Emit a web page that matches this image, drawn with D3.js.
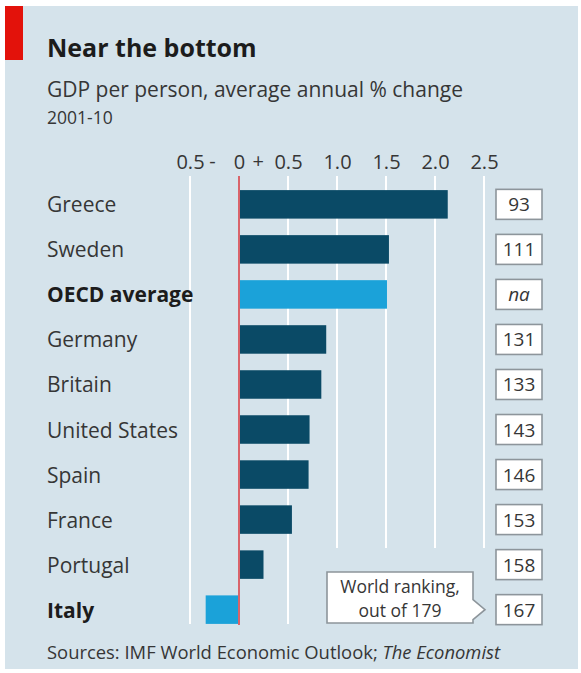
<!DOCTYPE html>
<html>
<head>
<meta charset="utf-8">
<script src="https://cdn.jsdelivr.net/npm/d3@7"></script>
<style>
  html, body { margin: 0; padding: 0; background: #ffffff; }
  svg { display: block; font-family: "Open Sans", sans-serif; }
</style>
</head>
<body>
<svg id="chart" width="581" height="673"></svg>
<script>
// GDP per person, average annual % change, 2001-10
const countries = ["Greece", "Sweden", "OECD average", "Germany", "Britain",
                   "United States", "Spain", "France", "Portugal", "Italy"];
const growth = [2.13, 1.53, 1.51, 0.89, 0.84, 0.72, 0.71, 0.54, 0.25, -0.34];
const worldRank = ["93", "111", "na", "131", "133", "143", "146", "153", "158", "167"];
const highlighted = ["OECD average", "Italy"];
const tickValues = [-0.5, 0, 0.5, 1.0, 1.5, 2.0, 2.5];
const tickLabels = ["0.5", "0", "0.5", "1.0", "1.5", "2.0", "2.5"];

const svg = d3.select("#chart");

const C = {
  panel: "#d5e3eb",
  dark: "#0a4a66",
  light: "#1ba2d9",
  red: "#e3120b",
  zero: "#d9646a",
  text: "#363636",
  bold: "#1c1c1c",
  boxLine: "#8d959b"
};

// background panel and red tab
svg.append("rect").attr("x", 5).attr("y", 6).attr("width", 573).attr("height", 663)
  .attr("fill", C.panel);
svg.append("rect").attr("x", 5).attr("y", 6).attr("width", 18).attr("height", 54)
  .attr("fill", C.red);

// titles
svg.append("text").attr("x", 47).attr("y", 57)
  .attr("font-size", 25).attr("font-weight", 700).attr("fill", C.bold)
  .text("Near the bottom");
svg.append("text").attr("x", 47).attr("y", 97)
  .attr("font-size", 21).attr("fill", C.text)
  .text("GDP per person, average annual % change");
svg.append("text").attr("x", 47).attr("y", 124)
  .attr("font-size", 17.5).attr("fill", C.text)
  .text("2001-10");

// scales
const x = d3.scaleLinear().domain([0, 2.5]).range([239, 484]);
const y = d3.scaleBand().domain(countries).range([182, 632]).paddingInner(0.367).paddingOuter(0.18);

// grid lines: the ones right of 0.5 stop above the callout
const gridTop = 176;
svg.append("g").selectAll("line").data(tickValues.filter(v => v !== 0)).join("line")
  .attr("x1", d => x(d)).attr("x2", d => x(d))
  .attr("y1", gridTop)
  .attr("y2", d => d >= 1.0 ? 548 : 624)
  .attr("stroke", "#ffffff").attr("stroke-width", 2);

// axis labels along the top
const axis = d3.axisTop(x).tickValues(tickValues)
  .tickFormat((d, i) => tickLabels[i]).tickSize(0).tickPadding(0);
const gAxis = svg.append("g").attr("transform", "translate(0,169)").call(axis);
gAxis.select(".domain").remove();
gAxis.selectAll("text")
  .attr("font-family", "Open Sans, sans-serif")
  .attr("font-size", 20).attr("fill", C.text)
  .attr("dy", 0);
// sign markers either side of zero
svg.append("text").attr("x", x(-0.27)).attr("y", 168).attr("text-anchor", "middle")
  .attr("font-size", 20).attr("fill", C.text).text("-");
svg.append("text").attr("x", x(0.195)).attr("y", 168).attr("text-anchor", "middle")
  .attr("font-size", 20).attr("fill", C.text).text("+");

// bars
svg.append("g").selectAll("rect").data(countries).join("rect")
  .attr("x", (d, i) => x(Math.min(0, growth[i])))
  .attr("y", d => y(d))
  .attr("width", (d, i) => Math.abs(x(growth[i]) - x(0)))
  .attr("height", y.bandwidth())
  .attr("fill", d => highlighted.includes(d) ? C.light : C.dark);

// zero line
svg.append("line").attr("x1", x(0)).attr("x2", x(0))
  .attr("y1", gridTop).attr("y2", 625)
  .attr("stroke", C.zero).attr("stroke-width", 2);

// category labels
svg.append("g").selectAll("text").data(countries).join("text")
  .attr("x", 47)
  .attr("y", d => y(d) + y.bandwidth() / 2 + 8)
  .attr("font-size", 21)
  .attr("font-weight", d => highlighted.includes(d) ? 700 : 400)
  .attr("fill", d => highlighted.includes(d) ? C.bold : C.text)
  .text(d => d);

// world ranking boxes
const rankG = svg.append("g").selectAll("g").data(countries).join("g")
  .attr("transform", d => `translate(519,${y(d) + y.bandwidth() / 2})`);
rankG.append("rect").attr("x", -23).attr("y", -15).attr("width", 46).attr("height", 30)
  .attr("fill", "#ffffff").attr("stroke", C.boxLine).attr("stroke-width", 1.6);
rankG.append("text").attr("text-anchor", "middle").attr("y", 7)
  .attr("font-size", 19).attr("fill", C.text)
  .attr("font-style", (d, i) => worldRank[i] === "na" ? "italic" : "normal")
  .text((d, i) => worldRank[i]);

// callout pointing at the last ranking box
const lastMid = y(countries[countries.length - 1]) + y.bandwidth() / 2;
const cx0 = 327, cx1 = 473, cy0 = 572, cy1 = 623;
svg.append("path")
  .attr("d", `M${cx0},${cy0}H${cx1}V${lastMid - 10}L${cx1 + 12},${lastMid}L${cx1},${lastMid + 10}V${cy1}H${cx0}Z`)
  .attr("fill", "#ffffff").attr("stroke", C.boxLine).attr("stroke-width", 1.6);
svg.append("text").attr("x", 400).attr("y", 592.5).attr("text-anchor", "middle")
  .attr("font-size", 17.5).attr("fill", C.text).text("World ranking,");
svg.append("text").attr("x", 400).attr("y", 616.5).attr("text-anchor", "middle")
  .attr("font-size", 17.5).attr("fill", C.text).text("out of 179");

// source line
const src = svg.append("text").attr("x", 47).attr("y", 659)
  .attr("font-size", 18.4).attr("fill", C.text);
src.append("tspan").text("Sources: IMF World Economic Outlook; ");
src.append("tspan").attr("font-style", "italic").text("The Economist");
</script>
</body>
</html>
